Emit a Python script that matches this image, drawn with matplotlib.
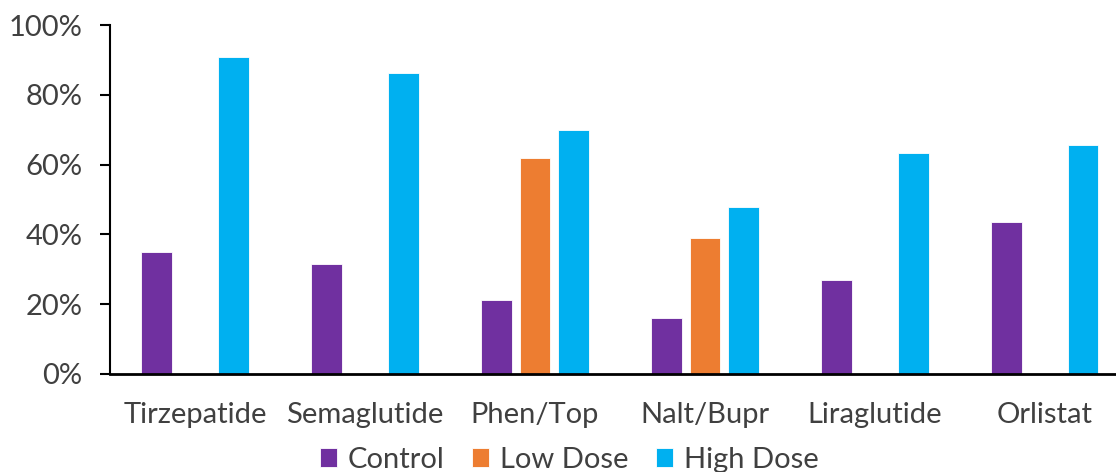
import matplotlib
matplotlib.use("Agg")
import matplotlib.pyplot as plt
from matplotlib.ticker import PercentFormatter
import numpy as np

categories = ["Tirzepatide", "Semaglutide", "Phen/Top", "Nalt/Bupr", "Liraglutide", "Orlistat"]
control = [35.1, 31.5, 21.1, 16.0, 26.9, 43.6]
low_dose = [None, None, 62.0, 39.0, None, None]
high_dose = [90.8, 86.2, 70.0, 47.9, 63.2, 65.7]
y_ticks = [0, 20, 40, 60, 80, 100]

series = [
    ("Control", control, "#7030A0", -0.225),
    ("Low Dose", low_dose, "#ED7D31", 0.0),
    ("High Dose", high_dose, "#00B0F0", 0.225),
]

text_color = "#404040"
plt.rcParams["font.family"] = ["Lato", "DejaVu Sans"]

fig = plt.figure(figsize=(11.16, 4.72), dpi=100)
ax = fig.add_axes([110 / 1116, 98 / 472, 1006 / 1116, 349 / 472])

x = np.arange(len(categories))
width = 0.18
for name, values, color, offset in series:
    xs = [xi + offset for xi, v in zip(x, values) if v is not None]
    vs = [v for v in values if v is not None]
    ax.bar(xs, vs, width=width, color=color, label=name, edgecolor="white", linewidth=0.6)

ax.set_xlim(-0.5, 5.418)
ax.set_ylim(0, 100)
ax.set_yticks(y_ticks)
ax.yaxis.set_major_formatter(PercentFormatter(decimals=0))
ax.set_xticks(x)
ax.set_xticklabels(categories)

for side in ["top", "right"]:
    ax.spines[side].set_visible(False)
ax.spines["left"].set_linewidth(1.5)
ax.spines["bottom"].set_linewidth(2.0)
ax.tick_params(axis="y", length=7, width=1.5, labelsize=21, colors="black",
               labelcolor=text_color, pad=13)
ax.tick_params(axis="x", length=0, labelsize=21, labelcolor=text_color, pad=20)

fig.legend(loc="lower center", bbox_to_anchor=(569 / 1116, -0.057), ncol=3,
           frameon=False, fontsize=21, labelcolor=text_color,
           handlelength=0.6, handleheight=0.6, handletextpad=0.35, columnspacing=0.95)

fig.savefig("out.png", dpi=100)
